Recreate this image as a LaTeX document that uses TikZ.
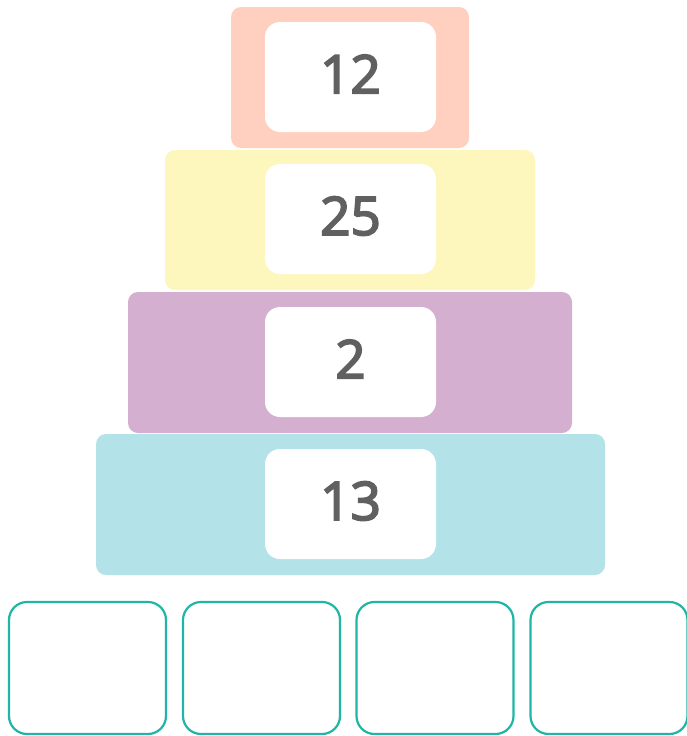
\documentclass[tikz,border=0pt]{standalone}
\usepackage{fontspec}
\setmainfont{Open Sans}
\newfontfamily\numfont[FakeBold=3.5]{Open Sans}
\definecolor{cSalmon}{HTML}{FFD0C0}
\definecolor{cYellow}{HTML}{FDF7BD}
\definecolor{cPurple}{HTML}{D4AFCF}
\definecolor{cBlue}{HTML}{B3E2E9}
\definecolor{cTeal}{HTML}{20B5A5}
\definecolor{cText}{HTML}{606060}
\begin{document}
\begin{tikzpicture}[x=1pt,y=-1pt,
  layer/.style={draw=none,inner sep=0pt,rounded corners=10pt,anchor=center},
  card/.style={fill=white,draw=none,inner sep=0pt,rounded corners=15pt,minimum width=171pt,minimum height=110pt,anchor=center},
  num/.style={inner sep=0pt,anchor=center,text=cText,font=\numfont\fontsize{53}{60}\selectfont},
  slot/.style={draw=cTeal,line width=2.2pt,fill=white,inner sep=0pt,rounded corners=18pt,minimum width=157pt,minimum height=132pt,anchor=center}]
\useasboundingbox (0,0) rectangle (686,736);
\node[layer,fill=cSalmon,minimum width=238pt,minimum height=141pt] (l1) at (350,77.5) {};
\node[layer,fill=cYellow,minimum width=370pt,minimum height=140pt] (l2) at (350,220) {};
\node[layer,fill=cPurple,minimum width=444pt,minimum height=141pt] (l3) at (350,362.5) {};
\node[layer,fill=cBlue,minimum width=509pt,minimum height=141pt] (l4) at (350.5,504.5) {};
\node[card] (c1) at (350.5,77) {};
\node[card] (c2) at (350.5,219) {};
\node[card] (c3) at (350.5,362) {};
\node[card] (c4) at (350.5,504) {};
\node[num] (n1) at (350.5,74) {12};
\node[num] (n2) at (350.5,216) {25};
\node[num] (n3) at (350.5,359) {2};
\node[num] (n4) at (350.5,501) {13};
\node[slot] (s1) at (87.5,668) {};
\node[slot] (s2) at (261.5,668) {};
\node[slot] (s3) at (435,668) {};
\node[slot] (s4) at (609,668) {};
\end{tikzpicture}
\end{document}
